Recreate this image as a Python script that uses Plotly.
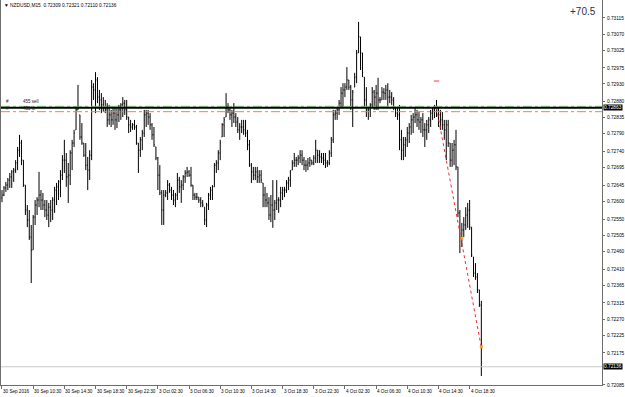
import plotly.graph_objects as go

# ---------------- data (prices in points, 1 point = 0.00001) ----------------
symbol = "NZDUSD,M15"

high_pts = [
    72632, 72643, 72655, 72666, 72680, 72688, 72694, 72716, 72753, 72787,
    72773, 72716, 72646, 72590, 72576, 72534, 72562, 72604, 72612, 72683,
    72632, 72624, 72604, 72604, 72596, 72604, 72612, 72641, 72652, 72660,
    72688, 72730, 72773, 72736, 72708, 72744, 72773, 72801, 72865, 72927,
    72843, 72820, 72764, 72764, 72725, 72744, 72941, 72932, 72963, 72949,
    72913, 72904, 72893, 72885, 72876, 72871, 72857, 72862, 72865, 72862,
    72871, 72876, 72893, 72885, 72885, 72837, 72829, 72820, 72829, 72815,
    72764, 72781, 72801, 72857, 72857, 72857, 72848, 72820, 72809, 72753,
    72725, 72702, 72632, 72632, 72632, 72660, 72652, 72641, 72632, 72624,
    72680, 72669, 72660, 72674, 72688, 72697, 72688, 72697, 72646, 72624,
    72624, 72612, 72612, 72604, 72584, 72596, 72624, 72641, 72646, 72708,
    72716, 72744, 72773, 72820, 72837, 72904, 72876, 72865, 72857, 72876,
    72848, 72837, 72820, 72829, 72829, 72829, 72801, 72773, 72708, 72697,
    72697, 72697, 72688, 72688, 72652, 72641, 72624, 72612, 72618, 72660,
    72604, 72660, 72612, 72641, 72641, 72641, 72660, 72669, 72688, 72716,
    72736, 72725, 72730, 72744, 72744, 72725, 72716, 72722, 72725, 72716,
    72730, 72773, 72744, 72744, 72736, 72736, 72736, 72716, 72744, 72781,
    72857, 72857, 72865, 72885, 72921, 72932, 72932, 72977, 72941, 72927,
    72913, 72961, 73025, 73104, 73062, 73017, 72949, 72921, 72865, 72876,
    72921, 72913, 72927, 72947, 72893, 72921, 72918, 72927, 72932, 72913,
    72907, 72893, 72865, 72865, 72871, 72801, 72781, 72781, 72809, 72820,
    72843, 72848, 72865, 72857, 72851, 72837, 72848, 72820, 72829, 72837,
    72857, 72865, 72871, 72885, 72865, 72857, 72851, 72829, 72829, 72829,
    72764, 72764, 72773, 72801, 72697, 72576, 72540, 72556, 72584, 72596,
    72604, 72528, 72444, 72427, 72399, 72352, 72321,
]

low_pts = [
    72598, 72615, 72627, 72632, 72638, 72638, 72655, 72680, 72688, 72725,
    72702, 72641, 72562, 72528, 72492, 72371, 72464, 72534, 72562, 72584,
    72576, 72576, 72556, 72548, 72528, 72542, 72548, 72568, 72590, 72604,
    72612, 72660, 72680, 72641, 72596, 72646, 72688, 72753, 72801, 72857,
    72773, 72759, 72725, 72688, 72632, 72660, 72716, 72885, 72848, 72876,
    72857, 72848, 72851, 72848, 72809, 72815, 72809, 72815, 72801, 72806,
    72823, 72829, 72837, 72843, 72829, 72792, 72795, 72801, 72801, 72759,
    72680, 72725, 72744, 72781, 72809, 72815, 72801, 72773, 72753, 72716,
    72632, 72618, 72534, 72534, 72612, 72604, 72624, 72604, 72590, 72584,
    72604, 72624, 72596, 72632, 72652, 72669, 72669, 72641, 72604, 72604,
    72604, 72596, 72584, 72584, 72534, 72528, 72576, 72604, 72604, 72641,
    72680, 72688, 72716, 72781, 72781, 72837, 72848, 72829, 72809, 72820,
    72809, 72792, 72773, 72792, 72787, 72781, 72744, 72697, 72652, 72660,
    72660, 72652, 72652, 72652, 72584, 72584, 72584, 72548, 72542, 72526,
    72548, 72576, 72568, 72584, 72604, 72612, 72624, 72632, 72641, 72688,
    72697, 72697, 72702, 72708, 72702, 72688, 72683, 72688, 72697, 72702,
    72702, 72708, 72708, 72708, 72708, 72702, 72694, 72697, 72702, 72725,
    72764, 72829, 72829, 72843, 72865, 72865, 72893, 72913, 72913, 72857,
    72809, 72921, 72932, 73017, 72969, 72949, 72865, 72837, 72829, 72837,
    72865, 72857, 72857, 72857, 72876, 72885, 72885, 72885, 72865, 72876,
    72871, 72857, 72837, 72829, 72744, 72716, 72716, 72725, 72753, 72764,
    72787, 72792, 72820, 72809, 72801, 72792, 72781, 72753, 72773, 72792,
    72809, 72829, 72834, 72837, 72809, 72801, 72801, 72773, 72716, 72753,
    72697, 72697, 72702, 72688, 72556, 72455, 72472, 72500, 72520, 72526,
    72520, 72444, 72388, 72380, 72343, 72304, 72110,
]

close_pts = [
    72618, 72638, 72646, 72660, 72669, 72683, 72688, 72708, 72744, 72764,
    72716, 72646, 72576, 72548, 72500, 72464, 72556, 72590, 72604, 72618,
    72604, 72590, 72576, 72562, 72584, 72576, 72604, 72632, 72641, 72655,
    72674, 72716, 72716, 72669, 72674, 72736, 72764, 72792, 72857, 72862,
    72781, 72764, 72730, 72702, 72688, 72730, 72921, 72913, 72941, 72893,
    72885, 72871, 72865, 72857, 72829, 72843, 72829, 72848, 72829, 72843,
    72857, 72871, 72876, 72857, 72837, 72815, 72809, 72815, 72809, 72764,
    72744, 72773, 72792, 72843, 72848, 72837, 72815, 72787, 72759, 72722,
    72674, 72624, 72576, 72618, 72624, 72646, 72632, 72618, 72604, 72618,
    72660, 72641, 72646, 72669, 72680, 72683, 72674, 72646, 72618, 72612,
    72612, 72604, 72596, 72590, 72548, 72590, 72618, 72632, 72641, 72702,
    72708, 72736, 72764, 72815, 72829, 72865, 72857, 72843, 72848, 72837,
    72823, 72801, 72809, 72809, 72801, 72792, 72759, 72702, 72683, 72674,
    72683, 72669, 72674, 72660, 72618, 72604, 72596, 72562, 72590, 72576,
    72596, 72604, 72604, 72624, 72632, 72632, 72652, 72660, 72683, 72708,
    72716, 72716, 72722, 72730, 72716, 72702, 72702, 72708, 72716, 72708,
    72722, 72744, 72730, 72725, 72722, 72716, 72708, 72708, 72736, 72773,
    72843, 72848, 72857, 72876, 72904, 72913, 72921, 72941, 72921, 72885,
    72907, 72949, 73017, 73062, 73017, 72961, 72885, 72857, 72857, 72871,
    72907, 72893, 72904, 72885, 72885, 72907, 72904, 72913, 72893, 72893,
    72885, 72865, 72848, 72843, 72773, 72744, 72759, 72773, 72792, 72809,
    72829, 72837, 72843, 72829, 72823, 72829, 72801, 72801, 72815, 72829,
    72848, 72857, 72865, 72862, 72843, 72829, 72815, 72801, 72815, 72764,
    72716, 72744, 72759, 72697, 72568, 72500, 72520, 72534, 72562, 72576,
    72528, 72450, 72399, 72388, 72352, 72309, 72136,
]
first_open_pts = 72610

# time axis labels (every 16 bars of M15)
time_labels = ["30 Sep 2016", "30 Sep 10:30", "30 Sep 14:30", "30 Sep 18:30",
               "30 Sep 22:30", "3 Oct 02:30", "3 Oct 06:30", "3 Oct 10:30",
               "3 Oct 14:30", "3 Oct 18:30", "3 Oct 22:30", "4 Oct 02:30",
               "4 Oct 06:30", "4 Oct 10:30", "4 Oct 14:30", "4 Oct 18:30"]
time_label_bars = [0, 16, 32, 48, 64, 80, 96, 112, 128, 144, 160, 176, 192, 208, 224, 240]

# price axis labels
price_ticks = [0.73115, 0.73070, 0.73025, 0.72975, 0.72930, 0.72880, 0.72835,
               0.72790, 0.72740, 0.72695, 0.72645, 0.72600, 0.72550, 0.72505,
               0.72460, 0.72410, 0.72365, 0.72315, 0.72270, 0.72225, 0.72175,
               0.72085]

# chart objects
hline_level = 0.72863          # black horizontal line
sell_level = 0.72867           # order line (green)
sl_level = 0.72852             # stop line (orange)
bid_level = 0.72136            # bid line
trend_bars = [223, 246]
trend_prices = [0.72863, 0.72190]
arrow_bars = [236, 246]
arrow_prices = [0.72497, 0.72192]
mark_bar = [223]
mark_price = [0.72938]
profit_text = "+70.5"

# ---------------- build ----------------
high = [v / 1e5 for v in high_pts]
low = [v / 1e5 for v in low_pts]
close = [v / 1e5 for v in close_pts]
opens = [first_open_pts / 1e5]
for i in range(1, len(close)):
    opens.append(min(max(close[i - 1], low[i]), high[i]))
bars = list(range(len(close)))

FONT = "Liberation Sans"
fig = go.Figure()

fig.add_trace(go.Ohlc(
    x=bars, open=opens, high=high, low=low, close=close,
    increasing=dict(line=dict(color="#000000", width=1)),
    decreasing=dict(line=dict(color="#000000", width=1)),
    tickwidth=0.35, hoverinfo="skip", showlegend=False,
))

# trend line (red dotted)
fig.add_trace(go.Scatter(
    x=trend_bars, y=trend_prices, mode="lines",
    line=dict(color="#ff2a2a", width=1, dash="dot"),
    hoverinfo="skip", showlegend=False,
))
fig.add_trace(go.Scatter(
    x=trend_bars[:1], y=trend_prices[:1], mode="markers",
    marker=dict(color="#ff2a2a", size=3), hoverinfo="skip", showlegend=False,
))
fig.add_trace(go.Scatter(
    x=arrow_bars, y=arrow_prices, mode="markers",
    marker=dict(color="#f0a020", size=3, symbol="square"),
    hoverinfo="skip", showlegend=False,
))
fig.add_trace(go.Scatter(
    x=mark_bar, y=mark_price, mode="markers",
    marker=dict(color="#ff9a9a", size=4, symbol="line-ew",
                line=dict(color="#ff9a9a", width=2)),
    hoverinfo="skip", showlegend=False,
))

shapes = [
    dict(type="line", xref="paper", yref="y", x0=0, x1=1, y0=bid_level, y1=bid_level,
         line=dict(color="#c8c8c8", width=1)),
    dict(type="line", xref="paper", yref="y", x0=0, x1=1, y0=sell_level, y1=sell_level,
         line=dict(color="#7ed67e", width=1, dash="dashdot")),
    dict(type="line", xref="paper", yref="y", x0=0, x1=1, y0=sl_level, y1=sl_level,
         line=dict(color="#ff7a45", width=1, dash="dashdot")),
    dict(type="line", xref="paper", yref="y", x0=0, x1=1, y0=hline_level, y1=hline_level,
         line=dict(color="#000000", width=2)),
]

annotations = []
# title
annotations.append(dict(
    xref="paper", yref="paper", x=0, y=1, xanchor="left", yanchor="top",
    xshift=1, yshift=-1, showarrow=False,
    text="\u25bc %s  %.5f %.5f %.5f %.5f" % (symbol, opens[-1], high[-1], low[-1], close[-1]),
    font=dict(family=FONT, size=4.8, color="#000000"),
))
# profit text
annotations.append(dict(
    xref="paper", yref="paper", x=1, y=1, xanchor="right", yanchor="top",
    xshift=-4, yshift=-4, showarrow=False, text=profit_text,
    font=dict(family=FONT, size=10, color="#2e3050"),
))
# order labels
for lvl, lab, anchor, shift in [(sell_level, "455 sell", "bottom", 0),
                                (sl_level, "455 sl", "middle", 3)]:
    annotations.append(dict(
        xref="paper", yref="y", x=0, y=lvl, xanchor="left", yanchor=anchor,
        xshift=3, yshift=shift, showarrow=False, text="#",
        font=dict(family=FONT, size=4.5, color="#222222"),
    ))
    annotations.append(dict(
        xref="paper", yref="y", x=0, y=lvl, xanchor="left", yanchor=anchor,
        xshift=20, yshift=shift, showarrow=False, text=lab,
        font=dict(family=FONT, size=4.5, color="#222222"),
    ))
# highlighted price labels
for lvl in [hline_level, bid_level]:
    annotations.append(dict(
        xref="paper", yref="y", x=1, y=lvl, xanchor="left", yanchor="middle",
        xshift=1, showarrow=False, text="%.5f" % lvl, bgcolor="#000000",
        borderpad=0, font=dict(family=FONT, size=4.8, color="#ffffff"),
    ))
# time labels (left-anchored like MT4)
for b, t in zip(time_label_bars, time_labels):
    annotations.append(dict(
        xref="x", yref="paper", x=b, y=0, xanchor="left", yanchor="top",
        xshift=-1, yshift=-2, showarrow=False, text=t,
        font=dict(family=FONT, size=4.6, color="#000000"),
    ))

fig.update_layout(
    width=625, height=397,
    margin=dict(l=1, r=21, t=0, b=12, pad=0),
    paper_bgcolor="#ffffff", plot_bgcolor="#ffffff",
    showlegend=False,
    shapes=shapes, annotations=annotations,
    xaxis=dict(
        range=[-0.51, 307.93], showgrid=False, zeroline=False,
        rangeslider=dict(visible=False),
        showline=True, linecolor="#6e6e6e", linewidth=1,
        tickmode="array", tickvals=time_label_bars, ticks="outside",
        ticklen=3, tickcolor="#6e6e6e", showticklabels=False,
        fixedrange=True,
    ),
    yaxis=dict(
        range=[0.720848, 0.731655], side="right", showgrid=False, zeroline=False,
        showline=True, linecolor="#6e6e6e", linewidth=1, mirror=True,
        tickmode="array", tickvals=price_ticks,
        ticktext=["%.5f" % v for v in price_ticks],
        ticks="outside", ticklen=2, tickcolor="#6e6e6e",
        ticklabelstandoff=1,
        tickfont=dict(family=FONT, size=4.8, color="#000000"),
        fixedrange=True,
    ),
)

fig.write_html("out.html")
